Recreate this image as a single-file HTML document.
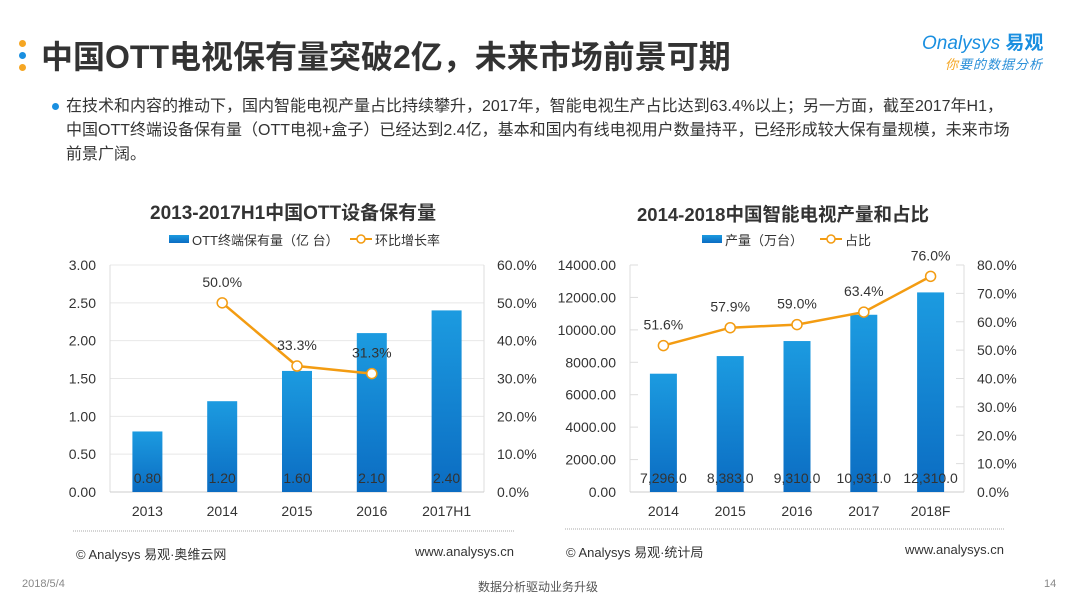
<!DOCTYPE html>
<html><head><meta charset="utf-8">
<style>
body{margin:0;background:#fff;}
#page{position:relative;width:1080px;height:608px;overflow:hidden;background:#fff;font-family:"Liberation Sans","Noto Sans CJK SC",sans-serif;}
.abs{position:absolute;white-space:nowrap;}
</style></head>
<body>
<div id="page">
  <div class="abs" style="left:19px;top:40px;width:7px;height:7px;border-radius:50%;background:#f5a623"></div>
  <div class="abs" style="left:19px;top:52px;width:7px;height:7px;border-radius:50%;background:#1a8fe0"></div>
  <div class="abs" style="left:19px;top:64px;width:7px;height:7px;border-radius:50%;background:#f5a623"></div>
  <div class="abs" style="left:41px;top:32px;font-size:32px;font-weight:bold;color:#333;">中国OTT电视保有量突破2亿，未来市场前景可期</div>
  <div class="abs" style="left:922px;top:28px;font-size:19px;color:#1a8fe0;font-style:italic">Onalysys <b style="font-style:normal">易观</b></div>
  <div class="abs" style="left:945px;top:54px;font-size:13px;color:#2a8fd8;font-style:italic;letter-spacing:1px"><span style="color:#f5a623">你</span>要的数据分析</div>
  <div class="abs" style="left:52px;top:103px;width:7px;height:7px;border-radius:50%;background:#1a8fe0"></div>
  <div class="abs" style="left:66px;top:95px;font-size:16px;line-height:24px;color:#333;white-space:normal;width:1000px">在技术和内容的推动下，国内智能电视产量占比持续攀升，2017年，智能电视生产占比达到63.4%以上；另一方面，截至2017年H1，<br>中国OTT终端设备保有量（OTT电视+盒子）已经达到2.4亿，基本和国内有线电视用户数量持平，已经形成较大保有量规模，未来市场<br>前景广阔。</div>

  <svg id="chart" class="abs" style="left:0;top:0" width="1080" height="608">
    <defs>
      <linearGradient id="bg" x1="0" y1="0" x2="0" y2="1">
        <stop offset="0" stop-color="#1c9be0"/><stop offset="1" stop-color="#0b6cc2"/>
      </linearGradient>
    </defs>
  </svg>

  <div class="abs" style="left:76px;top:544px;font-size:13px;color:#333">© Analysys 易观·奥维云网</div>
  <div class="abs" style="left:415px;top:544px;font-size:13px;color:#333">www.analysys.cn</div>
  <div class="abs" style="left:566px;top:542px;font-size:13px;color:#333">© Analysys 易观·统计局</div>
  <div class="abs" style="left:905px;top:542px;font-size:13px;color:#333">www.analysys.cn</div>
  <div class="abs" style="left:22px;top:578px;font-size:11px;color:#888">2018/5/4</div>
  <div class="abs" style="left:478px;top:578px;font-size:12px;color:#555">数据分析驱动业务升级</div>
  <div class="abs" style="left:1044px;top:578px;font-size:11px;color:#888">14</div>
</div>
<script>
// Left chart data
const leftCats = ["2013","2014","2015","2016","2017H1"];
const leftBars = [0.80,1.20,1.60,2.10,2.40];
const leftBarLabels = ["0.80","1.20","1.60","2.10","2.40"];
const leftRate = [null,50.0,33.3,31.3,null];
const leftRateLabels = [null,"50.0%","33.3%","31.3%",null];
const leftTicksL = ["0.00","0.50","1.00","1.50","2.00","2.50","3.00"];
const leftTicksR = ["0.0%","10.0%","20.0%","30.0%","40.0%","50.0%","60.0%"];
// Right chart data
const rightCats = ["2014","2015","2016","2017","2018F"];
const rightBars = [7296,8383,9310,10931,12310];
const rightBarLabels = ["7,296.0","8,383.0","9,310.0","10,931.0","12,310.0"];
const rightRate = [51.6,57.9,59.0,63.4,76.0];
const rightRateLabels = ["51.6%","57.9%","59.0%","63.4%","76.0%"];
const rightTicksL = ["0.00","2000.00","4000.00","6000.00","8000.00","10000.00","12000.00","14000.00"];
const rightTicksR = ["0.0%","10.0%","20.0%","30.0%","40.0%","50.0%","60.0%","70.0%","80.0%"];

const svg = document.getElementById('chart');
const NS = 'http://www.w3.org/2000/svg';
function mk(tag, attrs, text){
  const e = document.createElementNS(NS, tag);
  for (const k in attrs) e.setAttribute(k, attrs[k]);
  if (text !== undefined) e.textContent = text;
  svg.appendChild(e);
  return e;
}
const FONT = '"Liberation Sans","Noto Sans CJK SC",sans-serif';

function drawChart(o){
  const {x0,x1,yTop,yBot,cats,bars,barLabels,rate,rateLabels,ticksL,ticksR,lMax,rMax,bw,prefix,grid} = o;
  const yL = v => yBot - (v/lMax)*(yBot-yTop);
  const yR = v => yBot - (v/rMax)*(yBot-yTop);
  const step = (x1-x0)/cats.length;
  const xc = i => x0 + step*(i+0.5);
  let t = mk('text',{x:o.titleX,y:o.titleY,'font-size':o.titleSize,'font-weight':'bold',fill:'#333','font-family':FONT},o.title);
  
  
  let r = mk('rect',{x:o.legX,y:o.legY-6,width:20,height:8,fill:'url(#bg)'});
  
  
  t = mk('text',{x:o.legX+23,y:o.legY+4,'font-size':13,fill:'#333','font-family':FONT},o.legBar);
  
  
  let lx = o.legX2;
  let l = mk('line',{x1:lx,y1:o.legY-2,x2:lx+22,y2:o.legY-2,stroke:'#f39c12','stroke-width':2});
  
  
  mk('circle',{cx:lx+11,cy:o.legY-2,r:4,fill:'#fff',stroke:'#f39c12','stroke-width':1.5});
  t = mk('text',{x:lx+25,y:o.legY+4,'font-size':13,fill:'#333','font-family':FONT},o.legLine);
  
  
  ticksL.forEach((lab,i)=>{
    const v = i*lMax/(ticksL.length-1), y = yL(v);
    if (grid && i>0) mk('line',{x1:x0,y1:y,x2:x1,y2:y,stroke:'#e8e8e8','stroke-width':1});
    else if (!grid && i>0) mk('line',{x1:x0,y1:y,x2:x0+8,y2:y,stroke:'#ddd','stroke-width':1});
    const tt = mk('text',{x:x0-14,y:y+5,'font-size':14,fill:'#333','text-anchor':'end','font-family':FONT},lab);
    
    
  });
  ticksR.forEach((lab,i)=>{
    const v = i*rMax/(ticksR.length-1), y = yR(v);
    if (!grid && i>0) mk('line',{x1:x1-8,y1:y,x2:x1,y2:y,stroke:'#ddd','stroke-width':1});
    const tt = mk('text',{x:x1+13,y:y+5,'font-size':14,fill:'#333','font-family':FONT},lab);
    
    
  });
  mk('line',{x1:x0,y1:yTop,x2:x0,y2:yBot,stroke:'#ddd','stroke-width':1});
  mk('line',{x1:x1,y1:yTop,x2:x1,y2:yBot,stroke:'#ddd','stroke-width':1});
  mk('line',{x1:x0,y1:yBot,x2:x1,y2:yBot,stroke:'#ccc','stroke-width':1});
  bars.forEach((v,i)=>{
    const b = mk('rect',{x:xc(i)-bw/2,y:yL(v),width:bw,height:yBot-yL(v),fill:'url(#bg)'});
    
    
    const bl = mk('text',{x:xc(i),y:yBot-9,'font-size':14,fill:'#333','text-anchor':'middle','font-family':FONT},barLabels[i]);
    
    
    const cl = mk('text',{x:xc(i),y:yBot+24,'font-size':14,fill:'#333','text-anchor':'middle','font-family':FONT},cats[i]);
    
    
  });
  const pts = [];
  rate.forEach((v,i)=>{ if (v!==null) pts.push([xc(i),yR(v),i]); });
  const p = mk('polyline',{points:pts.map(q=>q[0]+','+q[1]).join(' '),fill:'none',stroke:'#f39c12','stroke-width':2.5});
  
  
  pts.forEach(q=>{
    const c = mk('circle',{cx:q[0],cy:q[1],r:5,fill:'#fff',stroke:'#f39c12','stroke-width':1.5});
    
    
    const tl = mk('text',{x:q[0],y:q[1]-16,'font-size':14,fill:'#333','text-anchor':'middle','font-family':FONT},rateLabels[q[2]]);
    
    
  });
  const d = mk('line',{x1:o.dotX0,y1:o.dotY,x2:o.dotX1,y2:o.dotY,stroke:'#aaa','stroke-width':1,'stroke-dasharray':'1,1'});
  
  
}

drawChart({prefix:'left',x0:110,x1:484,yTop:265,yBot:492,cats:leftCats,bars:leftBars,barLabels:leftBarLabels,
  rate:leftRate,rateLabels:leftRateLabels,ticksL:leftTicksL,ticksR:leftTicksR,lMax:3,rMax:60,bw:30,grid:true,
  title:'2013-2017H1中国OTT设备保有量',titleSize:19,titleX:150,titleY:219,legBar:'OTT终端保有量（亿 台）',legX:169,legY:241,
  legLine:'环比增长率',legX2:350,dotX0:73,dotX1:515,dotY:531});
drawChart({prefix:'right',x0:630,x1:964,yTop:265,yBot:492,cats:rightCats,bars:rightBars,barLabels:rightBarLabels,
  rate:rightRate,rateLabels:rightRateLabels,ticksL:rightTicksL,ticksR:rightTicksR,lMax:14000,rMax:80,bw:27,grid:false,
  title:'2014-2018中国智能电视产量和占比',titleSize:18.5,titleX:637,titleY:221,legBar:'产量（万台）',legX:702,legY:241,
  legLine:'占比',legX2:820,dotX0:565,dotX1:1005,dotY:529});
</script>
</body></html>
